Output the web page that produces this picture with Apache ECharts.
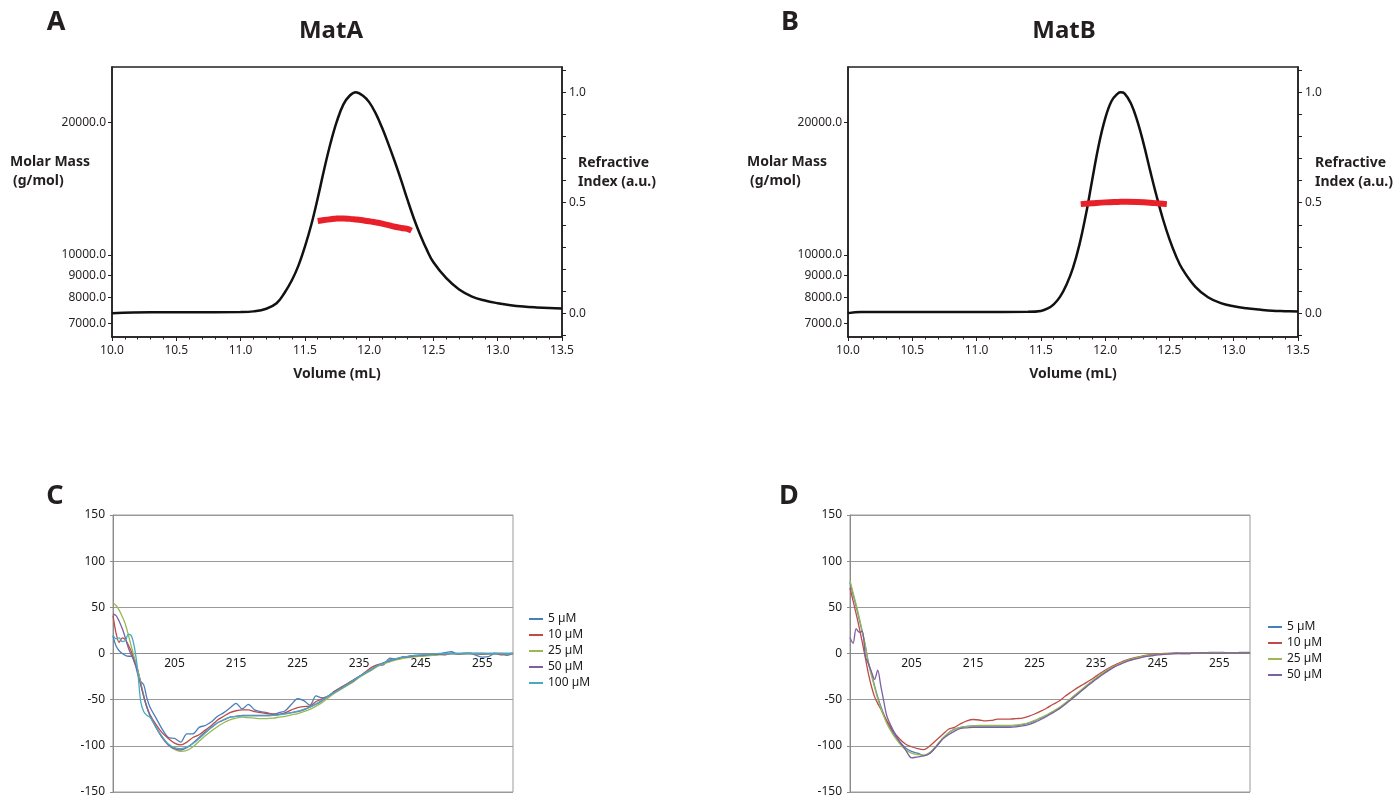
<!DOCTYPE html>
<html><head><meta charset="utf-8">
<script src="https://cdn.jsdelivr.net/npm/echarts@6/dist/echarts.min.js"></script>
<style>html,body{margin:0;padding:0;background:#fff}#c{width:1397px;height:795px}</style>
</head><body><div id="c"></div>
<script>
// ---------- Panel A / B : SEC-MALS ----------
const volA = [10.0,10.3,10.6,11.0,11.1,11.2,11.28,11.34,11.4,11.45,11.5,11.55,11.6,11.65,11.7,11.75,11.8,11.85,11.895,11.95,12.0,12.05,12.1,12.15,12.2,12.25,12.3,12.35,12.4,12.45,12.5,12.6,12.7,12.8,12.9,13.0,13.1,13.2,13.3,13.4,13.5];
const riA  = [0.0,0.004,0.004,0.005,0.008,0.02,0.045,0.09,0.15,0.215,0.30,0.40,0.52,0.65,0.77,0.87,0.945,0.985,1.0,0.985,0.955,0.905,0.84,0.765,0.685,0.60,0.51,0.425,0.35,0.285,0.23,0.158,0.107,0.075,0.057,0.045,0.036,0.03,0.026,0.023,0.021];
const mmVolA = [11.6,11.65,11.7,11.75,11.8,11.85,11.9,11.95,12.0,12.05,12.1,12.15,12.2,12.25,12.29,12.33];
const mmA    = [11950,12010,12060,12100,12110,12080,12035,11990,11935,11860,11780,11690,11590,11520,11480,11360];

const volB = [10.0,10.1,10.5,11.0,11.4,11.5,11.55,11.6,11.65,11.7,11.75,11.8,11.85,11.9,11.95,12.0,12.05,12.1,12.12,12.15,12.2,12.25,12.3,12.35,12.4,12.45,12.5,12.55,12.6,12.7,12.8,12.9,13.0,13.1,13.2,13.3,13.4,13.5];
const riB  = [0.0,0.005,0.005,0.005,0.006,0.01,0.02,0.04,0.075,0.13,0.205,0.31,0.445,0.605,0.76,0.88,0.96,0.995,1.0,0.995,0.95,0.87,0.765,0.645,0.53,0.425,0.335,0.26,0.2,0.12,0.072,0.045,0.031,0.022,0.016,0.011,0.009,0.007];
const mmVolB = [11.81,11.9,12.0,12.1,12.17,12.25,12.35,12.42,12.48];
const mmB    = [13050,13110,13170,13200,13215,13200,13150,13090,13050];

const massTicks = [7000,8000,9000,10000,20000];
const riTicks   = [-0.1,0,0.1,0.2,0.3,0.4,0.5,0.6,0.7,0.8,0.9,1.0,1.1];
const riLabels  = [0,0.5,1.0];

// ---------- Panel C / D : CD spectra ----------
const wl = [195,195.5,196,196.5,197,197.5,198,198.5,199,199.5,200,200.5,201,
  202,203,204,205,206,207,208,209,210,211,212,213,214,215,216,217,218,219,220,221,222,223,224,225,226,227,228,229,230,
  231,232,233,234,235,236,237,238,239,240,241,242,243,244,245,246,247,248,249,250,251,252,253,254,255,256,257,258,259,260];
const cdXLabels = [205,215,225,235,245,255];
const cdYMin = -150, cdYMax = 150;
const cNames = ['5 µM','10 µM','25 µM','50 µM','100 µM'];
const dNames = ['5 µM','10 µM','25 µM','50 µM'];

const c5 = [19,8,3,0,-2,-3,-3,-10,-18,-30,-34,-48,-58,
  -70,-82,-91,-92,-96,-87,-87,-80,-78,-74,-68,-64,-59,-54,-60,-55,-61,-63,-64,-66,-64,-62,-55,-49,-51,-56,-46,-48,-46,
  -41,-37,-33,-29,-25,-21,-18,-13,-12,-5,-6,-4,-3,-2,-3,-1,-2,-0.5,1,2,-1,0,0.5,-2,-4,-3.5,0,-0.5,-2,0];
const c10 = [41,22,12,17,15,9,2,-8,-18,-32,-46,-58,-66,
  -77,-86,-92,-97,-99,-96,-91,-88,-83,-78,-72,-68,-64,-62,-61,-61,-63,-64,-65,-65.5,-66,-64,-61,-58.5,-57.5,-57,-52,-49,-46,
  -41,-37,-33,-29,-25,-20,-15,-12,-11,-7,-6,-4.5,-3.5,-3,-2.5,-2,-2,-1,-1.5,0.5,-0.5,0,0,-0.5,-1,-0.5,0,-1.5,-0.5,0];
const c25 = [55,52,47,40,32,20,7,-5,-17,-32,-46,-58,-67,
  -80,-91,-99,-104,-106,-105,-101,-95,-89,-84,-79,-75,-72,-70,-69,-69.5,-70,-70.5,-70.5,-70,-69,-68,-66.5,-65,-63,-60.5,-57,-53,-48,
  -43,-39,-35,-31,-26,-22,-18,-14,-11,-9,-7,-5.5,-4.5,-3.5,-3,-2.5,-2,-1.5,-1,-0.5,-0.5,0,0,0,0,-0.5,0,0,-0.5,0];
const c50 = [43,41,35,27,17,6,-2,-9,-22,-34,-47,-58,-67,
  -80,-91,-99,-103,-104.5,-102,-97,-91,-85,-80,-75,-72,-69,-68,-67,-67,-67,-67,-67,-67,-66,-65,-64,-63,-61,-58,-55,-51,-46,
  -42,-38,-34,-30,-25,-21,-17,-13,-10,-8,-6,-4,-3.5,-2.5,-2,-1.5,-1,-1,-0.5,0,0,0,0,0,0,0,0,0,0,0];
const c100 = [20,16,17,13,14,21,19,6,-18,-52,-63,-67,-69,
  -80,-90,-98,-102,-103,-101.5,-97.5,-92,-86,-80,-75,-71.5,-69,-68,-67.5,-67.5,-67.5,-67.5,-67.5,-67,-66.5,-65.5,-64,-62.5,-60.5,-58,-54.5,-50.5,-46,
  -42,-38,-34,-29.5,-25,-21,-17,-13,-10,-7.5,-5.5,-4,-3,-2,-1.5,-1,-0.5,0,0,0,0,0,0,0,0,0,0,0,0,0];

const d5 = [77,64,51,37,23,8,-10,-22,-35,-47,-57,-66,-74,
  -86,-95,-102,-106,-108,-110.5,-108,-101,-93,-86,-82,-80,-79,-78.5,-78.5,-78.5,-78.5,-78.5,-78.5,-78.5,-78,-77,-75.5,-73,-70,-67,-63,-59,-54,
  -48.5,-43,-37.5,-32,-27,-22,-17.5,-14,-11,-8,-6,-4.5,-3,-2,-1,-0.5,0,0.5,0.5,0.5,0.5,1,1,1.2,1.2,1,0.8,1,1.2,1.2];
const d10 = [71,57,43,28,12,-5,-22,-36,-47,-54,-60,-67,-73,
  -84,-92,-98,-101,-103,-104,-100,-94,-88,-82,-80,-76,-73,-71.5,-72,-73,-72.5,-71,-71,-71,-70.5,-70,-68,-65.5,-62.5,-59,-55,-51.5,-46,
  -41.5,-37,-33,-29,-24.5,-20,-16,-12.5,-9.5,-7,-5,-3.5,-2,-1,-0.5,0,0,0.5,0,0,0.5,0.5,0.5,0.5,0.5,0.5,0.5,0.5,0.5,0.5];
const d25 = [79,66,53,39,24,8,-11,-24,-37,-49,-59,-68,-76,
  -88,-97,-104,-108,-109.5,-110,-107,-100,-92,-86,-82,-80,-79,-78.5,-78,-78,-78,-78,-78,-78,-77.5,-76.5,-75,-72.5,-69.5,-66.5,-62.5,-58.5,-53.5,
  -48,-42.5,-37,-31.5,-26.5,-21.5,-17,-13.5,-10.5,-7.5,-5.5,-4,-2.5,-1.5,-1,-0.5,0,0,0.5,0.5,0.5,0.5,0.5,1,1,0.5,0.5,0.5,0.5,0.5];
const d50 = [17,11,27,23,24,-3,-11,-20,-28,-18,-35,-52,-68,
  -83,-95,-104,-113,-112,-111,-108,-101,-93,-88,-84,-81,-80.5,-80,-80,-80,-80,-80,-80,-80,-79.5,-78.5,-77,-74.5,-71.5,-68,-64,-60,-55,
  -49.5,-44,-38.5,-33,-28,-23,-18.5,-14.5,-11.5,-8.5,-6.5,-5,-3.5,-2.5,-1.5,-1,-0.5,0,0,0,0.5,0.5,0.5,0.5,0.5,0.5,0.5,0.5,0.5,0.5];

const cdColors = ['#4a7ebb','#be4b48','#98b954','#7d60a0','#46aac5'];

// ---------- build ----------
const FONT = '"Noto Sans", sans-serif';
const ink = '#231f20';
const gray = '#9a9a9a';
const pairs = (xs, ys) => xs.map((x, i) => [x, ys[i]]);

function secAxes(g) {
  const x = {
    gridIndex: g, type: 'value', min: 10, max: 13.5, interval: 0.5,
    axisLine: { onZero: false, lineStyle: { color: ink, width: 1.5 } },
    axisTick: { length: 4, lineStyle: { color: ink, width: 1 } },
    minorTick: { show: true, splitNumber: 5, length: 2.5, lineStyle: { color: ink, width: 1 } },
    axisLabel: { formatter: v => v.toFixed(1), color: ink, fontSize: 12, fontFamily: FONT, margin: 8, showMinLabel: true, showMaxLabel: true },
    splitLine: { show: false }, minorSplitLine: { show: false },
    name: 'Volume (mL)', nameLocation: 'middle', nameGap: 30,
    nameTextStyle: { fontWeight: 'bold', fontSize: 14, color: ink, fontFamily: FONT }
  };
  const yl = {
    gridIndex: g, type: 'log', logBase: 10, min: 6511, max: 26744, position: 'left',
    axisLine: { show: true, lineStyle: { color: ink, width: 1.5 } },
    axisTick: { show: true, length: 4, customValues: massTicks, lineStyle: { color: ink, width: 1 } },
    axisLabel: { customValues: massTicks, formatter: v => Number(v).toFixed(1), color: ink, fontSize: 12, fontFamily: FONT, margin: 6 },
    splitLine: { show: false }, minorTick: { show: false }
  };
  const yr = {
    gridIndex: g, type: 'value', min: -0.108, max: 1.114, position: 'right',
    axisLine: { show: true, onZero: false, lineStyle: { color: ink, width: 1.5 } },
    axisTick: { show: true, length: 4, customValues: riTicks, lineStyle: { color: ink, width: 1 } },
    axisLabel: { customValues: riLabels, formatter: v => Number(v).toFixed(1), color: ink, fontSize: 12, fontFamily: FONT, margin: 7 },
    splitLine: { show: false }
  };
  return { x, yl, yr };
}
const sa = secAxes(0), sb = secAxes(1);

const CD_H = 277;
// the wavelength axis sits on the y = 0 line: shift it up from the grid bottom
const zeroOffset = -CD_H * (0 - cdYMin) / (cdYMax - cdYMin);

function cdAxes(g) {
  return {
    x: {
      gridIndex: g, type: 'value', min: 195, max: 260, position: 'bottom', offset: zeroOffset,
      axisLine: { show: true, onZero: false, lineStyle: { color: '#8a8a8a', width: 1 } },
      axisTick: { show: false },
      axisLabel: { customValues: cdXLabels, color: '#1a1a1a', fontSize: 12, fontFamily: FONT, margin: 4 },
      splitLine: { show: false }
    },
    y: {
      gridIndex: g, type: 'value', min: cdYMin, max: cdYMax, interval: 50,
      axisLine: { show: true, onZero: false, lineStyle: { color: '#8a8a8a', width: 1 } },
      axisTick: { show: true, length: 3, lineStyle: { color: '#8a8a8a' } },
      axisLabel: { color: '#1a1a1a', fontSize: 12, fontFamily: FONT, margin: 8 },
      splitLine: { show: true, lineStyle: { color: gray, width: 1 } }
    }
  };
}
const ca = cdAxes(2), da = cdAxes(3);

function cdSeries(names, arrs, xi, yi) {
  return names.map((n, i) => ({
    type: 'line', name: n, xAxisIndex: xi, yAxisIndex: yi,
    data: pairs(wl, arrs[i]), showSymbol: false, smooth: 0.3,
    lineStyle: { width: 1.3, color: cdColors[i] }, itemStyle: { color: cdColors[i] },
    z: 2 + i
  }));
}

const txt = (s, x, y, size, align, weight) => ({
  type: 'text', x, y, silent: true,
  style: { text: s, font: (weight || 'bold') + ' ' + size + 'px ' + FONT, fill: ink, align: align || 'left', verticalAlign: 'middle' }
});

const legendBase = {
  orient: 'vertical', itemWidth: 14, itemHeight: 2, itemGap: 4, icon: 'rect', selectedMode: false,
  textStyle: { fontSize: 12, lineHeight: 12, color: '#1a1a1a', fontFamily: FONT }, padding: 0
};

const gridBase = { outerBoundsMode: 'none', containLabel: false, show: true, backgroundColor: 'transparent' };

const option = {
  animation: false,
  backgroundColor: '#fff',
  grid: [
    Object.assign({}, gridBase, { left: 112, top: 67, width: 450, height: 270, borderColor: ink, borderWidth: 1.5 }),
    Object.assign({}, gridBase, { left: 848, top: 67, width: 450, height: 270, borderColor: ink, borderWidth: 1.5 }),
    Object.assign({}, gridBase, { left: 113, top: 515, width: 400, height: CD_H, borderColor: gray, borderWidth: 1 }),
    Object.assign({}, gridBase, { left: 850, top: 515, width: 400, height: CD_H, borderColor: gray, borderWidth: 1 })
  ],
  xAxis: [sa.x, sb.x, ca.x, da.x],
  yAxis: [sa.yl, sa.yr, sb.yl, sb.yr, ca.y, da.y],
  legend: [
    Object.assign({}, legendBase, { data: cNames, left: 529, top: 613 }),
    Object.assign({}, legendBase, { data: dNames, left: 1268, top: 621 })
  ],
  series: [
    { type: 'line', name: 'RI A', xAxisIndex: 0, yAxisIndex: 1, data: pairs(volA, riA), showSymbol: false, smooth: 0.4,
      lineStyle: { color: '#111', width: 2.5 }, itemStyle: { color: '#111' } },
    { type: 'line', name: 'MM A', xAxisIndex: 0, yAxisIndex: 0, data: pairs(mmVolA, mmA), showSymbol: false, smooth: 0.4,
      lineStyle: { color: '#e8202a', width: 6 }, itemStyle: { color: '#e8202a' }, z: 5 },
    { type: 'line', name: 'RI B', xAxisIndex: 1, yAxisIndex: 3, data: pairs(volB, riB), showSymbol: false, smooth: 0.4,
      lineStyle: { color: '#111', width: 2.5 }, itemStyle: { color: '#111' } },
    { type: 'line', name: 'MM B', xAxisIndex: 1, yAxisIndex: 2, data: pairs(mmVolB, mmB), showSymbol: false, smooth: 0.4,
      lineStyle: { color: '#e8202a', width: 6 }, itemStyle: { color: '#e8202a' }, z: 5 },
    ...cdSeries(cNames, [c5, c10, c25, c50, c100], 2, 4),
    ...cdSeries(dNames, [d5, d10, d25, d50], 3, 5)
  ],
  graphic: [
    txt('A', 56, 22, 27, 'center'),
    txt('MatA', 331, 31, 24, 'center'),
    txt('B', 790, 22, 27, 'center'),
    txt('MatB', 1064, 31, 24, 'center'),
    txt('C', 55, 496, 27, 'center'),
    txt('D', 789, 496, 27, 'center'),
    txt('Molar Mass', 10, 162, 14),
    txt('(g/mol)', 13, 181, 14),
    txt('Refractive', 578, 163, 14),
    txt('Index (a.u.)', 578, 182, 14),
    txt('Molar Mass', 747, 162, 14),
    txt('(g/mol)', 750, 181, 14),
    txt('Refractive', 1315, 163, 14),
    txt('Index (a.u.)', 1315, 182, 14)
  ]
};

const chart = echarts.init(document.getElementById('c'), null, { renderer: 'canvas' });
chart.setOption(option);
</script>
</body></html>
